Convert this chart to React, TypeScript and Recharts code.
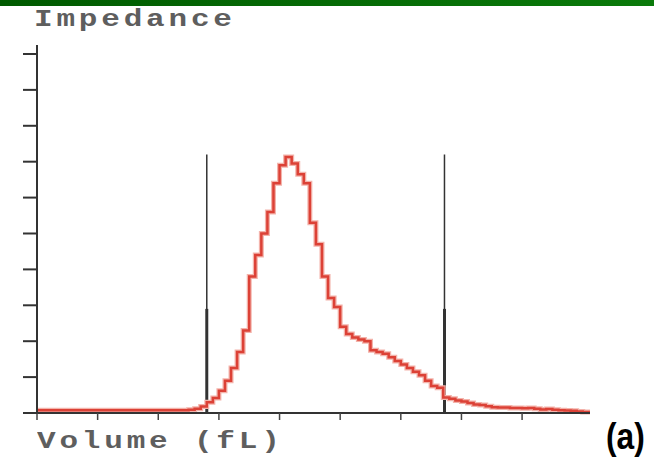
import React from "react"
import { LineChart, Line, XAxis, YAxis, ReferenceLine } from "recharts"

// volume bins (fL) and impedance counts
const volumes = [
  0, 62.5, 65, 67.5, 70, 72.5, 75, 77.5, 80, 82.5, 85, 87.5, 90, 92.5, 95, 97.5, 100, 102.5,
  105, 107.5, 110, 112.5, 115, 117.5, 120, 122.5, 125, 127.5, 130, 132.5, 135, 137.5, 140,
  142.5, 145, 147.5, 150, 152.5, 155, 157.5, 160, 162.5, 165, 167.5, 170, 172.5, 175, 177.5,
  180, 182.5, 185, 187.5, 190, 192.5, 195, 197.5, 200, 202.5, 205, 207.5, 210, 212.5, 215,
  217.5, 220, 222.5, 225, 228,
]
const counts = [
  0.8, 0.9, 1.2, 1.8, 3.0, 4.2, 6.2, 9.0, 12.5, 17, 23, 38, 44, 50, 56, 64, 69, 71.3,
  69.5, 66.5, 64, 53, 47, 38, 32, 29.5, 24, 22, 21, 20.5, 20, 17.5, 17,
  16.5, 15.5, 14.5, 13.5, 12.5, 11.5, 10.5, 9, 7.5, 7, 4.3, 4, 3.5, 3.2, 2.8,
  2.4, 2.2, 1.9, 1.6, 1.5, 1.5, 1.4, 1.4, 1.3, 1.4, 1.2, 1.0, 1.1, 0.9, 0.8,
  0.7, 0.6, 0.4, 0.3, 0.3,
]
const xTicks = [0, 25, 50, 75, 100, 125, 150, 175, 200]
const yTicks = [0, 10, 20, 30, 40, 50, 60, 70, 80, 90, 100]
// discriminator positions (fL) and their heights
const discriminators = [70, 168]
const discHeight = 72
const discThick = 29

const data = volumes.map((v, i) => ({ v, count: counts[i] }))

const mono = "'Liberation Mono', 'DejaVu Sans Mono', monospace"

const labelStyle: React.CSSProperties = {
  position: "absolute",
  fontFamily: mono,
  fontSize: 23,
  lineHeight: 1,
  fontWeight: "bold",
  color: "#5e5e5e",
  letterSpacing: 2.8,
  whiteSpace: "pre",
  transform: "scaleX(1.35)",
  transformOrigin: "left top",
}

export default function App() {
  return (
    <div style={{ position: "absolute", left: 0, top: 0, width: 654, height: 475, background: "#fff", overflow: "hidden" }}>
      <div
        style={{
          position: "absolute", left: 0, top: 0, width: 654, height: 6,
          background: "linear-gradient(90deg, #005a00, #0a7a0a)",
        }}
      />
      <div style={{ ...labelStyle, left: 34, top: 9 }}>Impedance</div>
      <div style={{ ...labelStyle, left: 37, top: 431 }}>Volume (fL)</div>
      <div
        style={{
          position: "absolute", left: 606, top: 416, fontFamily: "'Liberation Sans', Arial, sans-serif",
          fontSize: 36, fontWeight: "bold", color: "#000", transform: "scaleX(0.88)", transformOrigin: "left top",
        }}
      >
        (a)
      </div>
      <div style={{ position: "absolute", left: 0, top: 0 }}>
        <LineChart width={654} height={475} data={data} margin={{ top: 45, right: 64, bottom: 32, left: 0 }}>
          <XAxis
            type="number"
            dataKey="v"
            domain={[0, 228]}
            ticks={xTicks}
            tickSize={7}
            tickFormatter={() => ""}
            height={30}
            stroke="#333"
            axisLine={{ stroke: "#333", strokeWidth: 2 }}
            tickLine={{ stroke: "#444", strokeWidth: 1.5 }}
          />
          <YAxis
            type="number"
            domain={[0, 102.5]}
            ticks={yTicks}
            tickSize={14}
            width={37}
            tickFormatter={() => ""}
            stroke="#333"
            axisLine={{ stroke: "#333", strokeWidth: 2 }}
            tickLine={{ stroke: "#333", strokeWidth: 2 }}
          />
          {discriminators.map((d) => (
            <ReferenceLine
              key={`t-${d}`}
              segment={[{ x: d, y: 0 }, { x: d, y: discHeight }]}
              stroke="#333"
              strokeWidth={1.5}
            />
          ))}
          {discriminators.map((d) => (
            <ReferenceLine
              key={`k-${d}`}
              segment={[{ x: d, y: 0 }, { x: d, y: discThick }]}
              stroke="#333"
              strokeWidth={3}
            />
          ))}
          <Line
            type="stepAfter"
            dataKey="count"
            stroke="#f3b3ab"
            strokeWidth={5}
            dot={false}
            activeDot={false}
            isAnimationActive={false}
          />
          <Line
            type="stepAfter"
            dataKey="count"
            stroke="#dc4136"
            strokeWidth={2.5}
            dot={false}
            isAnimationActive={false}
          />
        </LineChart>
      </div>
    </div>
  )
}
